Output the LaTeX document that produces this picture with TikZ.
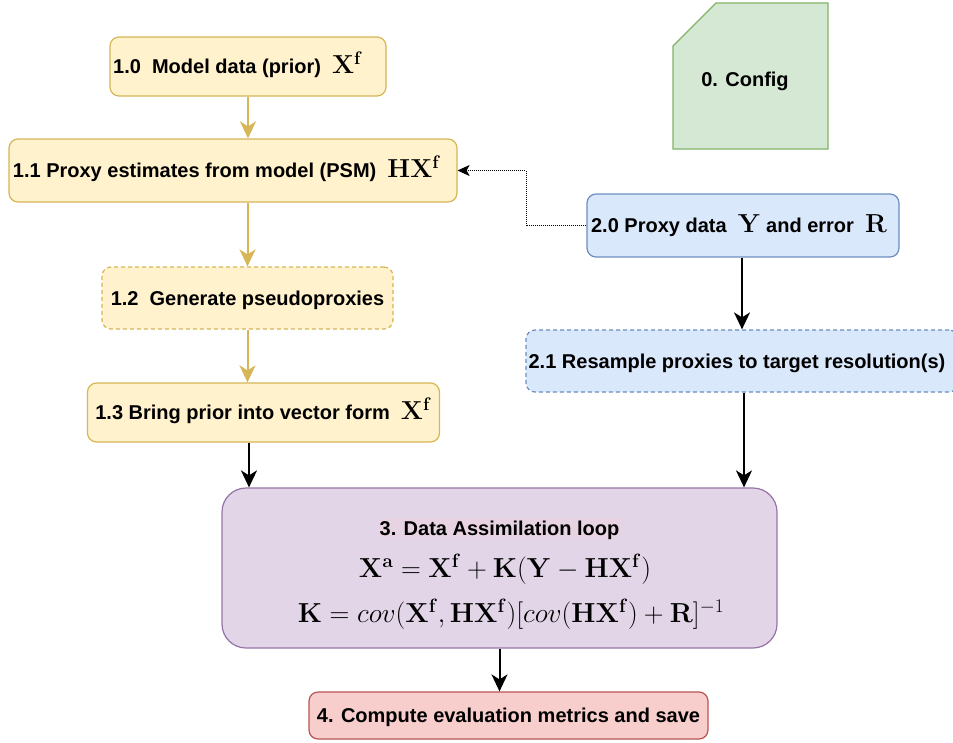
\RequirePackage{fix-cm}
\documentclass[tikz,border=0pt]{standalone}
\usepackage[no-math]{fontspec}
\newfontfamily\lsans{Liberation Sans}
\usetikzlibrary{arrows.meta}
\definecolor{yfill}{HTML}{FFF2CC}
\definecolor{ydraw}{HTML}{D6B656}
\definecolor{bfill}{HTML}{DAE8FC}
\definecolor{bdraw}{HTML}{6C8EBF}
\definecolor{gfill}{HTML}{D5E8D4}
\definecolor{gdraw}{HTML}{82B366}
\definecolor{pfill}{HTML}{E1D5E7}
\definecolor{pdraw}{HTML}{9673A6}
\definecolor{rfill}{HTML}{F8CECC}
\definecolor{rdraw}{HTML}{B85450}
\definecolor{hlcol}{HTML}{E8D3E2}
\newcommand{\mymath}[1]{{\fontsize{26}{30}\selectfont$#1$}}
\newcommand{\myeq}[1]{{\fontsize{27.5}{31}\selectfont$#1$}}
\newcommand{\bX}{\mathbf{X}}
\newcommand{\bff}{\mathbf{f}}
\tikzset{
  lbl/.style={font=\lsans\bfseries\fontsize{20}{24}\selectfont},
  box/.style={lbl, draw, rounded corners=9pt, line width=1.2pt, inner sep=0pt,
    align=center, text height=14.5pt, text depth=0pt},
  ybox/.style={box, fill=yfill, draw=ydraw},
  bbox/.style={box, fill=bfill, draw=bdraw},
  dashbox/.style={dash pattern=on 4pt off 3pt},
  yarrow/.style={draw=ydraw, line width=2pt, -{Stealth[length=17pt,width=16pt,inset=5pt]}},
  karrow/.style={draw=black, line width=2pt, -{Stealth[length=17pt,width=16pt,inset=5pt]}},
  dotarrow/.style={draw=black, line width=1pt, dash pattern=on 1pt off 1pt,
    -{Stealth[length=12pt,width=11pt,inset=3pt]}}
}
\begin{document}
\begin{tikzpicture}[x=1pt,y=-1pt]
\useasboundingbox (0,0) rectangle (953,742);
% config
\fill[gfill] (716,3) -- (828,3) -- (828,149) -- (673,149) -- (673,46) -- cycle;
\draw[gdraw, line width=1.2pt] (716,3) -- (828,3) -- (828,149) -- (673,149) -- (673,46) -- cycle;
\node[lbl, text height=14.5pt, text depth=0pt, inner sep=0pt] (cfg) at (745,79) {0. Config};
% column 1
\node[ybox, minimum width=276pt, minimum height=59pt] (n10) at (248,66.5)
  {1.0\ \ Model data (prior)\ \ \mymath{\bX^{\bff}}\hspace{20pt}};
\node[ybox, minimum width=448pt, minimum height=63pt] (n11) at (233,170.5)
  {1.1 Proxy estimates from model (PSM)\ \ \mymath{\mathbf{H}\bX^{\bff}}\hspace{12pt}};
\node[ybox, dashbox, minimum width=291pt, minimum height=62pt] (n12) at (247.5,298)
  {1.2\ \ Generate pseudoproxies};
\node[ybox, minimum width=352pt, minimum height=59pt] (n13) at (263.5,412.5)
  {1.3 Bring prior into vector form\ \ \mymath{\bX^{\bff}}};
% column 2
\node[bbox, minimum width=312pt, minimum height=63pt] (n20) at (743,225.5)
  {2.0 Proxy data\ \ \mymath{\mathbf{Y}} and error\ \ \mymath{\mathbf{R}}\hspace{8pt}};
\node[bbox, dashbox, minimum width=432pt, minimum height=62pt] (n21) at (742,361)
  {2.1 Resample proxies to target resolution(s)\hspace{10pt}};
% box 3
\node[box, fill=pfill, draw=pdraw, rounded corners=24pt, minimum width=555pt,
  minimum height=160pt] (n3) at (499.5,568) {};
\node[lbl, fill=hlcol, inner xsep=2pt, inner ysep=0pt, text height=17pt, text depth=2pt,
  anchor=base] (t3) at (499.5,535) {3. Data Assimilation loop};
\node[anchor=base, inner sep=0pt] (e1) at (505,577)
  {\myeq{\bX^{\mathbf{a}}=\bX^{\bff}+\mathbf{K}(\mathbf{Y}-\mathbf{H}\bX^{\bff})}};
\node[anchor=base, inner sep=0pt] (e2) at (511,622)
  {\myeq{\mathbf{K}=cov(\bX^{\bff},\mathbf{H}\bX^{\bff})[cov(\mathbf{H}\bX^{\bff})+\mathbf{R}]^{-1}}};
% box 4
\node[box, fill=rfill, draw=rdraw, minimum width=399pt, minimum height=47pt] (n4) at (508.5,715.5)
  {4. Compute evaluation metrics and save};
% connectors
\coordinate (c13) at (249,0);
\coordinate (c21) at (744,0);
\coordinate (dv) at (526,0);
\draw[yarrow] (n10.south) -- (n10.south |- n11.north);
\draw[yarrow] (n12.north |- n11.south) -- (n12.north);
\draw[yarrow] (n12.south) -- (n12.south |- n13.north);
\draw[karrow] (n13.south -| c13) -- (n3.north -| c13);
\draw[karrow] (n21.north |- n20.south) -- (n21.north);
\draw[karrow] (n21.south -| c21) -- (n3.north -| c21);
\draw[karrow] (n3.south) -- (n3.south |- n4.north);
\draw[dotarrow] (n20.west) -- (n20.west -| dv) |- (n11.east);
\end{tikzpicture}
\end{document}
